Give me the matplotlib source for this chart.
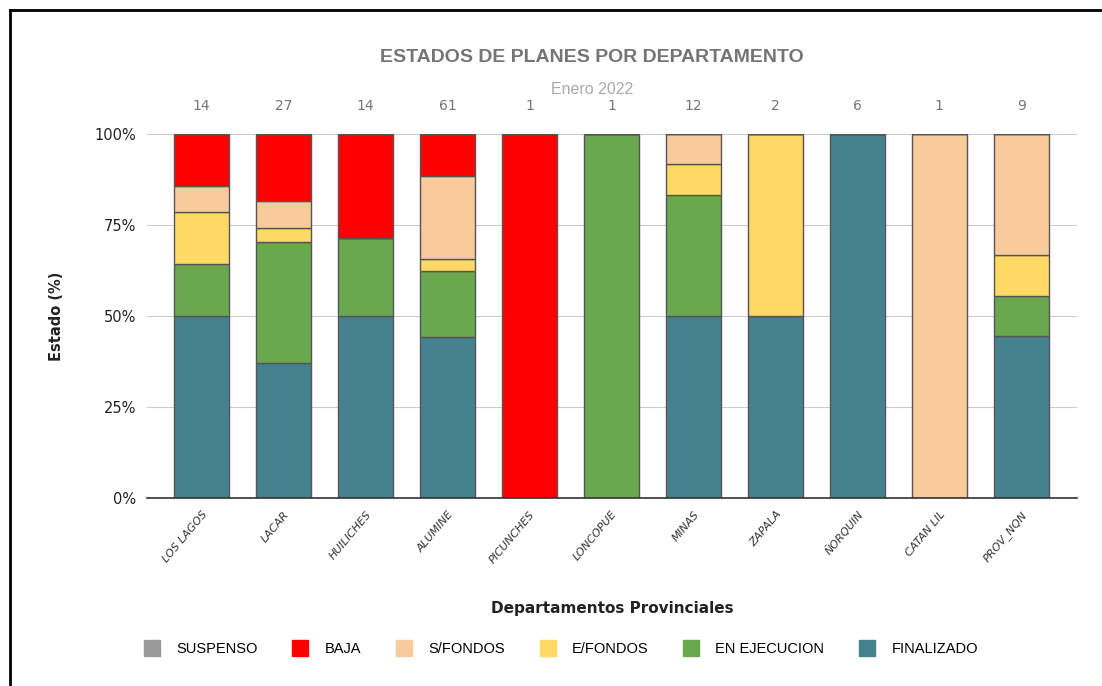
import matplotlib
matplotlib.use('Agg')
import matplotlib.pyplot as plt
from matplotlib.patches import Patch
from matplotlib.lines import Line2D
import numpy as np

departamentos = ['LOS LAGOS', 'LACAR', 'HUILICHES', 'ALUMINE', 'PICUNCHES', 'LONCOPUE',
                 'MINAS', 'ZAPALA', 'ÑORQUIN', 'CATAN LIL', 'PROV_NQN']
finalizado   = [7, 10, 7, 27, 0, 0, 6, 1, 6, 0, 4]
en_ejecucion = [2, 9, 3, 11, 0, 1, 4, 0, 0, 0, 1]
e_fondos     = [2, 1, 0, 2, 0, 0, 1, 1, 0, 0, 1]
s_fondos     = [1, 2, 0, 14, 0, 0, 1, 0, 0, 1, 3]
baja         = [2, 5, 4, 7, 1, 0, 0, 0, 0, 0, 0]
suspenso     = [0, 0, 0, 0, 0, 0, 0, 0, 0, 0, 0]

series = [('FINALIZADO', finalizado, '#45818e'),
          ('EN EJECUCION', en_ejecucion, '#6aa84f'),
          ('E/FONDOS', e_fondos, '#ffd966'),
          ('S/FONDOS', s_fondos, '#f9cb9c'),
          ('BAJA', baja, '#ff0000'),
          ('SUSPENSO', suspenso, '#999999')]

totales = np.sum([np.array(s[1]) for s in series], axis=0)

fig = plt.figure(figsize=(11.02, 6.86), dpi=100)
ax = fig.add_axes([147 / 1102, 1 - 498 / 686, 930 / 1102, 364 / 686])

x = np.arange(len(departamentos))
bottom = np.zeros(len(departamentos))
for name, vals, color in series:
    pct = np.array(vals) / totales * 100
    ax.bar(x, pct, width=0.67, bottom=bottom, color=color,
           edgecolor='#555555', linewidth=1.0, zorder=3)
    bottom += pct

ax.set_xlim(-0.665, 10.68)
ax.set_ylim(0, 100)
ax.set_yticks([0, 25, 50, 75, 100])
ax.set_yticklabels(['0%', '25%', '50%', '75%', '100%'], fontsize=10.5, color='#222222')
ax.grid(axis='y', color='#cccccc', linewidth=0.8, zorder=0)
for s in ['top', 'right', 'left']:
    ax.spines[s].set_visible(False)
ax.spines['bottom'].set_color('#333333')
ax.spines['bottom'].set_linewidth(1.2)
ax.spines['bottom'].set_zorder(4)
ax.tick_params(axis='both', length=0, pad=8)
ax.set_xticks(x)
ax.set_xticklabels(departamentos, rotation=50, ha='right', rotation_mode='anchor',
                   fontsize=8, style='italic', color='#333333')

for i, t in enumerate(totales):
    ax.text(i, 107.7, str(int(t)), ha='center', va='center', fontsize=10, color='#757575')

ax.set_ylabel('Estado (%)', fontsize=10.5, fontweight='bold', color='#222222', labelpad=22)
ax.set_xlabel('Departamentos Provinciales', fontsize=11, fontweight='bold', color='#222222',
              labelpad=26)

fig.text(0.5375, 1 - 58 / 686, 'ESTADOS DE PLANES POR DEPARTAMENTO', ha='center', va='center',
         fontsize=14, fontweight='bold', color='#757575', family='Liberation Sans')
fig.text(0.5375, 1 - 90 / 686, 'Enero 2022', ha='center', va='center',
         fontsize=11.5, color='#aaaaaa', family='Liberation Sans')

handles = [Patch(facecolor=c, edgecolor=c, label=n) for n, v, c in reversed(series)]
fig.legend(handles=handles, loc='center', bbox_to_anchor=(0.509, 1 - 648 / 686), ncol=6,
           frameon=False, handlelength=1.1, handleheight=1.3,
           columnspacing=2.4, handletextpad=1.1,
           prop={'family': 'Liberation Sans', 'size': 10.5})

# border of the screenshot
fig.add_artist(Line2D([10 / 1102, 10 / 1102], [0, 1 - 10 / 686], transform=fig.transFigure,
                      color='black', linewidth=2))
fig.add_artist(Line2D([10 / 1102, 1], [1 - 10 / 686, 1 - 10 / 686], transform=fig.transFigure,
                      color='black', linewidth=2))

fig.savefig('out.png', dpi=100)
